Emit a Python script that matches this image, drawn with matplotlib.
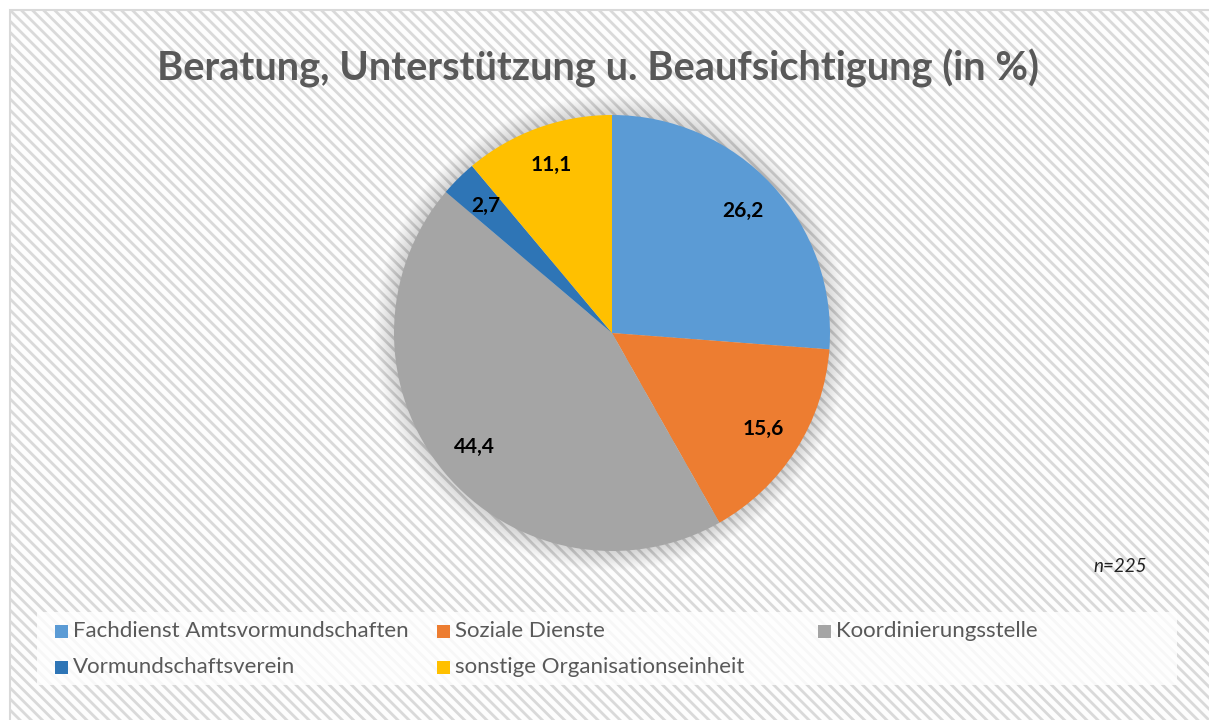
import matplotlib
matplotlib.use("Agg")
import matplotlib.pyplot as plt
from matplotlib.patches import Rectangle, Circle

categories = ["Fachdienst Amtsvormundschaften", "Soziale Dienste", "Koordinierungsstelle",
              "Vormundschaftsverein", "sonstige Organisationseinheit"]
values = [26.2, 15.6, 44.4, 2.7, 11.1]
colors = ["#5B9BD5", "#ED7D31", "#A5A5A5", "#2E75B6", "#FFC000"]
title = "Beratung, Unterstützung u. Beaufsichtigung (in %)"
note = "n=225"

W, H = 1209, 720
plt.rcParams['font.family'] = ['Lato', 'DejaVu Sans']
plt.rcParams['hatch.linewidth'] = 2.0
plt.rcParams['hatch.color'] = '#F3F3F3'

fig = plt.figure(figsize=(W / 100, H / 100), dpi=100)
fig.patch.set_facecolor('white')

# background axes in pixel coords
bg = fig.add_axes([0, 0, 1, 1])
bg.set_xlim(0, W)
bg.set_ylim(H, 0)
bg.axis('off')
bg.add_patch(Rectangle((10, 10), W + 20, H + 20, facecolor='#FDFDFD', edgecolor='#D9D9D9',
                       lw=1.5, hatch='\\\\\\', zorder=0))
# legend box
bg.add_patch(Rectangle((37, 612), 1140, 73, facecolor='white', edgecolor='none',
                       alpha=0.8, zorder=1))

bg.text(598, 68, title, ha='center', va='center', fontsize=28.7, fontweight='bold',
        color='#595959', zorder=3)
bg.text(1147, 567, note, ha='right', va='center', fontsize=13.5, style='italic',
        color='#222222', zorder=3)

# legend entries (manual Excel-like layout)
col_x = [55, 437, 818]
row_y = [631, 667]
order = [(0, 0, 0), (1, 0, 1), (2, 0, 2), (3, 1, 0), (4, 1, 1)]
for idx, r, c in order:
    x, y = col_x[c], row_y[r]
    bg.add_patch(Rectangle((x, y - 6.5), 13, 13, facecolor=colors[idx], edgecolor='none', zorder=3))
    bg.text(x + 18, y, categories[idx], ha='left', va='center', fontsize=16,
            color='#595959', zorder=3)

# pie axes
cx, cy, R = 612, 333, 218
ax = fig.add_axes([(cx - R) / W, (H - cy - R) / H, 2 * R / W, 2 * R / H])
ax.patch.set_alpha(0)
# soft shadow
for i in range(20):
    rr = 1.0 + 0.0045 * (i + 1)
    ax.add_patch(Circle((0, 0), rr, facecolor='#000000', alpha=0.008, edgecolor='none',
                        zorder=0, clip_on=False))

wedges, texts, autotexts = ax.pie(values, colors=colors, startangle=90, counterclock=False,
                                  radius=1.0, autopct=lambda p: '', pctdistance=0.82,
                                  wedgeprops=dict(edgecolor='none'))
ax.set_xlim(-1, 1)
ax.set_ylim(-1, 1)
ax.set_aspect('equal')
ax.axis('off')
for w in wedges:
    w.set_zorder(2)
for at, v in zip(autotexts, values):
    at.set_text(f"{v:.1f}".replace('.', ','))
    at.set_fontsize(15)
    at.set_fontweight('bold')
    at.set_color('black')
    at.set_zorder(3)

fig.savefig('out.png', dpi=100, facecolor='white')
